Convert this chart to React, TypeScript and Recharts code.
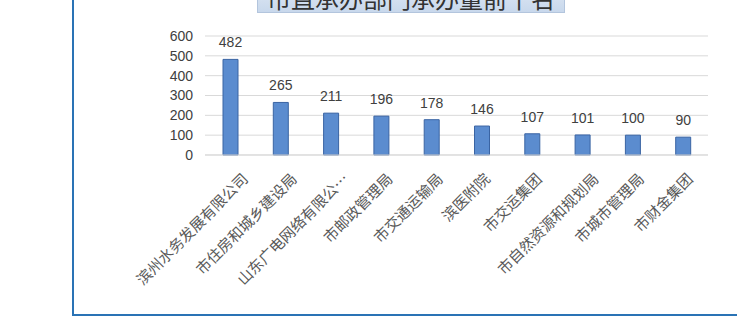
import React from "react";
import { Bar, BarChart, CartesianGrid, LabelList, XAxis, YAxis } from "recharts";

const departments = [
  "滨州水务发展有限公司",
  "市住房和城乡建设局",
  "山东广电网络有限公…",
  "市邮政管理局",
  "市交通运输局",
  "滨医附院",
  "市交运集团",
  "市自然资源和规划局",
  "市城市管理局",
  "市财金集团",
];
const counts = [482, 265, 211, 196, 178, 146, 107, 101, 100, 90];
const yTicks = [0, 100, 200, 300, 400, 500, 600];

const data = departments.map((name, i) => ({ name, count: counts[i] }));

const XTick = (props: any) => {
  const { x, y, payload } = props;
  const n = String(payload.value).length;
  return (
    <g transform={`translate(${x + 3 + 1.6 * n},${y + 17})`}>
      <text textAnchor="end" transform="rotate(-45)" fontSize={15} fill="#595959" fontFamily="'Noto Sans CJK SC', sans-serif">
        {payload.value}
      </text>
    </g>
  );
};

export default function App() {
  return (
    <div style={{ position: "absolute", left: 0, top: 0, width: 737, height: 318, overflow: "hidden", background: "#fff", fontFamily: "'Liberation Sans', Arial, sans-serif" }}>
      <div
        style={{
          position: "absolute",
          left: 72,
          top: -10,
          width: 700,
          height: 326,
          boxSizing: "border-box",
          borderLeft: "2px solid #2a73b5",
          borderBottom: "2px solid #2a73b5",
        }}
      />
      <div
        style={{
          position: "absolute",
          left: 257,
          top: -20,
          width: 308,
          height: 33,
          boxSizing: "border-box",
          background: "linear-gradient(#e3ebf5, #c8d8ec)",
          border: "1px solid #b3c5dd",
          display: "flex",
          alignItems: "flex-end",
          justifyContent: "center",
          fontSize: 24,
          lineHeight: "26px",
          color: "#333",
          fontFamily: "'Noto Sans CJK SC', sans-serif",
          paddingBottom: 1,
        }}
      >
        市直承办部门承办量前十名
      </div>
      <div style={{ position: "absolute", left: 0, top: 0 }}>
        <BarChart width={737} height={318} data={data} margin={{ top: 36, right: 29, left: 155, bottom: 63 }}>
          <CartesianGrid vertical={false} stroke="#d9d9d9" />
          <XAxis dataKey="name" height={100} interval={0} tickLine={false} axisLine={{ stroke: "#d9d9d9" }} tick={<XTick />} />
          <YAxis
            width={50}
            domain={[0, 600]}
            ticks={yTicks}
            interval={0}
            axisLine={false}
            tickLine={false}
            tickMargin={6}
            tick={{ fontSize: 14, fill: "#404040" }}
          />
          <Bar dataKey="count" barSize={15} fill="#5b8ccf" stroke="#3a64a3" strokeWidth={1} isAnimationActive={false}>
            <LabelList dataKey="count" position="top" offset={12} fontSize={14} fill="#404040" />
          </Bar>
        </BarChart>
      </div>
    </div>
  );
}
